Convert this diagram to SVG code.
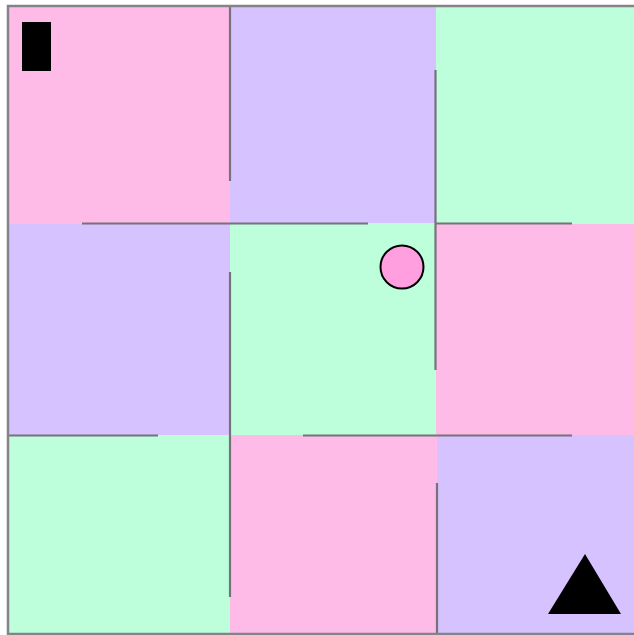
<svg xmlns="http://www.w3.org/2000/svg" width="634" height="635" viewBox="0 0 634 635">
<style>
.pink{fill:#FFBBE8}
.purple{fill:#D6C2FE}
.green{fill:#BDFFDB}
.wall{stroke:#76727A;stroke-width:2.2;fill:none}
.border{stroke:#86828A;stroke-width:2.5;fill:none}
</style>
<rect width="634" height="635" fill="#ffffff"/>
<g id="cells">
<rect class="pink" x="8" y="6" width="222" height="218"/>
<rect class="purple" x="230" y="6" width="206" height="217"/>
<rect class="green" x="436" y="6" width="198" height="218"/>
<rect class="purple" x="8" y="224" width="222" height="211"/>
<rect class="green" x="230" y="223" width="206" height="212"/>
<rect class="pink" x="436" y="224" width="198" height="211"/>
<rect class="green" x="8" y="435" width="222" height="199"/>
<rect class="pink" x="230" y="435" width="207" height="199"/>
<rect class="purple" x="437" y="435" width="197" height="199"/>
</g>
<g id="walls">
<line class="wall" x1="82" y1="223.5" x2="368" y2="223.5"/>
<line class="wall" x1="436" y1="223.5" x2="572" y2="223.5"/>
<line class="wall" x1="8" y1="435.5" x2="158" y2="435.5"/>
<line class="wall" x1="303" y1="435.5" x2="572" y2="435.5"/>
<line class="wall" x1="230" y1="6" x2="230" y2="181"/>
<line class="wall" x1="230" y1="272" x2="230" y2="597"/>
<line class="wall" x1="435.5" y1="70" x2="435.5" y2="370"/>
<line class="wall" x1="437" y1="483" x2="437" y2="634"/>
</g>
<g id="frame">
<polyline class="border" points="8,635 8,6 634,6"/>
<line class="border" x1="8" y1="634" x2="634" y2="634"/>
</g>
<g id="start">
<rect x="22" y="22" width="29" height="49" fill="#000"/>
</g>
<g id="ball">
<circle cx="402" cy="267" r="21.5" fill="#FF9FE0" stroke="#000" stroke-width="2"/>
</g>
<g id="goal">
<polygon points="585,554 548,614 621,614" fill="#000"/>
</g>
</svg>
